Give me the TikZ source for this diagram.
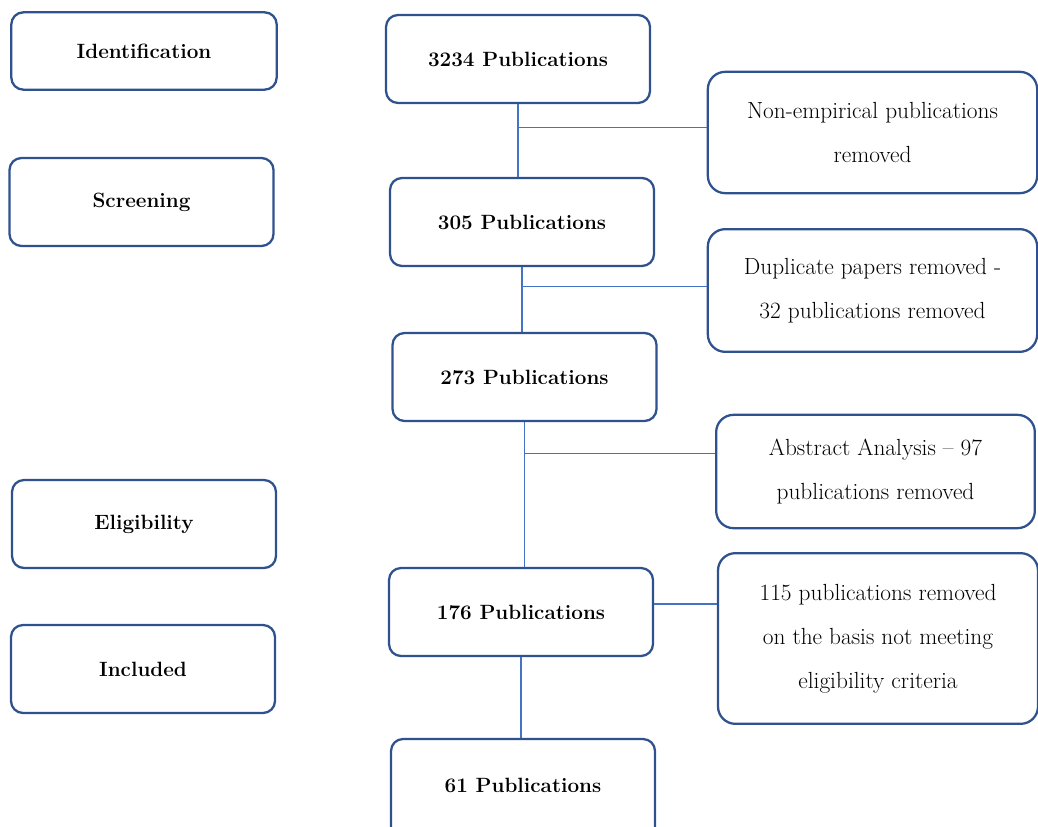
\documentclass[tikz,border=0pt]{standalone}
\usetikzlibrary{positioning}
\definecolor{boxblue}{RGB}{47,82,143}
\definecolor{lineblue}{RGB}{68,114,196}

\begin{document}
\begin{tikzpicture}[x=0.75pt,y=-0.75pt,
box/.style={draw=boxblue, line width=1.7pt, rounded corners=9pt, fill=white, align=center, minimum width=198pt, minimum height=66pt, font=\fontsize{15.5}{33}\selectfont\bfseries},
note/.style={draw=boxblue, line width=1.7pt, rounded corners=13pt, fill=white, align=center, font=\fontsize{17.5}{33}\selectfont},
link/.style={draw=lineblue, line width=0.9pt}
]
\useasboundingbox (0,0) rectangle (1038,827);

% stage labels
\node[box, minimum width=199pt, minimum height=58pt] (ident) at (144,51) {Identification};
\node[box] (screen) at (141.5,202) {Screening};
\node[box] (elig) at (144,524) {Eligibility};
\node[box] (incl) at (143,669) {Included};

% main flow
\node[box] (p3234) at (518,59) {3234 Publications};
\node[box] (p305) at (522,222) {305 Publications};
\node[box] (p273) at (524.5,377) {273 Publications};
\node[box] (p176) at (521,612) {176 Publications};
\node[box, minimum height=75pt, text depth=6pt] (p61) at (523,789) {61 Publications};

% removals
\node[note, minimum width=247pt, minimum height=91pt] (nonemp) at (872.5,132.5) {Non-empirical publications\\removed};
\node[note, minimum width=247pt, minimum height=92pt] (dup) at (872.5,290.5) {Duplicate papers removed -\\32 publications removed};
\node[note, minimum width=239pt, minimum height=85pt] (abstr) at (875.5,471.5) {Abstract Analysis -- 97\\publications removed};
\node[note, minimum width=240pt, minimum height=128pt] (crit) at (878,638.5) {115 publications removed\\on the basis not meeting\\eligibility criteria};

\draw[link] (p3234.south) -- (p3234.south |- p305.north);
\draw[link] ([yshift=4pt]nonemp.west) -- ([yshift=4pt]nonemp.west -| p3234.south);
\draw[link] (p305.south) -- (p305.south |- p273.north);
\draw[link] ([yshift=3pt]dup.west) -- ([yshift=3pt]dup.west -| p305.south);
\draw[link] (p273.south) -- (p273.south |- p176.north);
\draw[link] ([yshift=13.5pt]abstr.west) -- ([yshift=13.5pt]abstr.west -| p273.south);
\draw[link] ([yshift=6pt]p176.east) -- ([yshift=6pt]p176.east -| crit.west);
\draw[link] (p176.south) -- (p176.south |- p61.north);
\end{tikzpicture}
\end{document}
